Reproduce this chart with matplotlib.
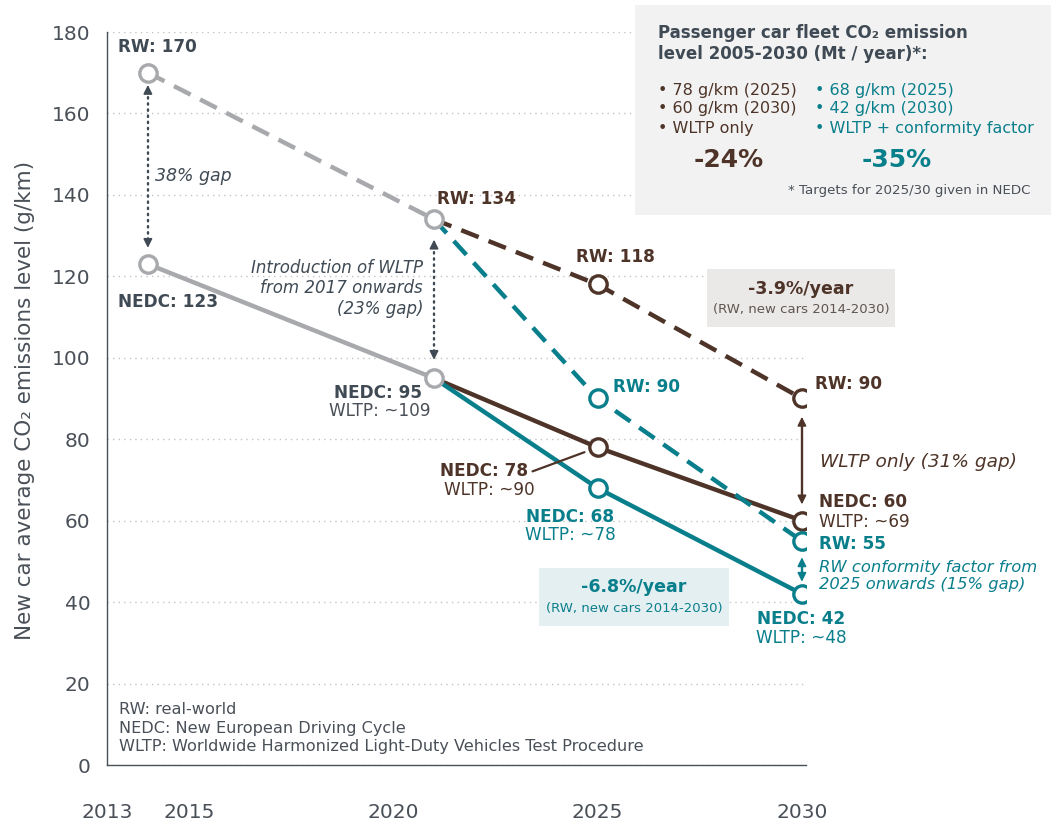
import matplotlib
matplotlib.use('Agg')
import matplotlib.pyplot as plt
from matplotlib.patches import Rectangle

plt.rcParams['font.family'] = ['DejaVu Sans']

''' data '''
years_hist = [2014, 2021]
rw_hist = [170, 134]
nedc_hist = [123, 95]
years_proj = [2021, 2025, 2030]
rw_wltp = [134, 118, 90]      # WLTP only
nedc_wltp = [95, 78, 60]
wltp_wltp = [109, 90, 69]
rw_cf = [134, 90, 55]         # WLTP + conformity factor
nedc_cf = [95, 68, 42]
wltp_cf = [109, 78, 48]
year_ticks = [2013, 2015, 2020, 2025, 2030]
y_ticks = [0, 20, 40, 60, 80, 100, 120, 140, 160, 180]
footnote = ['RW: real-world',
            'NEDC: New European Driving Cycle',
            'WLTP: Worldwide Harmonized Light-Duty Vehicles Test Procedure']

GRAY = '#a7a9ac'
BROWN = '#4e3428'
TEAL = '#0a7f8c'
DARK = '#3f4a54'
AXIS = '#4a5058'

W, H = 1051, 822
fig = plt.figure(figsize=(W / 100, H / 100), dpi=100)
ax = fig.add_axes([107 / W, 1 - 765 / H, 699 / W, 733 / H])
ax.set_xlim(2013, 2030.1)
ax.set_ylim(0, 180)


def fx(px):
    return px / W


def fy(py):
    return 1 - py / H


''' lines '''
lw = 3.2
dash = (4.2, 2.4)
ax.plot(years_hist, rw_hist, color=GRAY, lw=lw, dashes=dash, zorder=3)
ax.plot(years_hist, nedc_hist, color=GRAY, lw=lw, zorder=3)
ax.plot(years_proj, rw_wltp, color=BROWN, lw=lw, dashes=dash, zorder=2)
ax.plot(years_proj, nedc_wltp, color=BROWN, lw=lw, zorder=2)
ax.plot(years_proj, rw_cf, color=TEAL, lw=lw, dashes=dash, zorder=2)
ax.plot(years_proj, nedc_cf, color=TEAL, lw=lw, zorder=2)

mk = dict(marker='o', ms=12.5, mew=2.4, mfc='white', ls='none', zorder=6)
ax.plot(years_hist * 2, rw_hist + nedc_hist, mec=GRAY, **mk)
ax.plot(years_proj[1:] * 2, rw_wltp[1:] + nedc_wltp[1:], mec=BROWN, **mk)
ax.plot(years_proj[1:] * 2, rw_cf[1:] + nedc_cf[1:], mec=TEAL, **mk)

''' axes style '''
for s in ['top', 'right']:
    ax.spines[s].set_visible(False)
for s in ['left', 'bottom']:
    ax.spines[s].set_color(AXIS)
    ax.spines[s].set_linewidth(1.0)
ax.set_xticks(year_ticks)
ax.set_yticks(y_ticks)
ax.tick_params(axis='x', length=0, pad=27, labelsize=14.5, labelcolor=AXIS)
ax.tick_params(axis='y', length=0, pad=12, labelsize=14.5, labelcolor=AXIS)
ax.yaxis.grid(True, ls=(0, (1, 3)), color='#c4c4c4', lw=1)
ax.set_axisbelow(True)

fig.text(fx(25), fy(400), 'New car average CO₂ emissions level (g/km)',
         rotation=90, ha='center', va='center', fontsize=15.5, color=AXIS)


def lab(x, y, s, dx, dy, color, ha='left', weight='bold', size=12.2, style='normal'):
    ax.annotate(s, (x, y), xytext=(dx, dy), textcoords='offset pixels',
                ha=ha, va='center', color=color, fontsize=size,
                fontweight=weight, fontstyle=style, annotation_clip=False,
                linespacing=1.2, zorder=7)


''' point labels '''
lab(years_hist[0], rw_hist[0], f'RW: {rw_hist[0]}', -30, 26, DARK)
lab(years_hist[0], nedc_hist[0], f'NEDC: {nedc_hist[0]}', -30, -38, DARK)
lab(years_hist[0], rw_hist[0], '38% gap', 7, -103, DARK, weight='normal', style='italic', size=12.5)
lab(years_proj[0], rw_wltp[0], f'RW: {rw_wltp[0]}', 3, 20, BROWN)
lab(years_proj[0], nedc_wltp[0], f'NEDC: {nedc_wltp[0]}', -12, -15, DARK, ha='right')
lab(years_proj[0], nedc_wltp[0], f'WLTP: ~{wltp_wltp[0]}', -4, -33, AXIS, ha='right', weight='normal')
lab(years_proj[0], rw_wltp[0], 'Introduction of WLTP\nfrom 2017 onwards\n(23% gap)',
    -11, -69, DARK, ha='right', weight='normal', style='italic', size=12)

lab(years_proj[1], rw_wltp[1], f'RW: {rw_wltp[1]}', 18, 27, BROWN, ha='center')
lab(years_proj[1], rw_cf[1], f'RW: {rw_cf[1]}', 15, 12, TEAL)
lab(years_proj[1], nedc_wltp[1], f'NEDC: {nedc_wltp[1]}', -69, -24, BROWN, ha='right')
lab(years_proj[1], nedc_wltp[1], f'WLTP: ~{wltp_wltp[1]}', -63, -43, BROWN, ha='right', weight='normal')
ax.annotate('', (years_proj[1], nedc_wltp[1]), xytext=(-65, -24), textcoords='offset pixels',
            arrowprops=dict(arrowstyle='-', color=BROWN, lw=1.6, shrinkA=0, shrinkB=10))
lab(years_proj[1], nedc_cf[1], f'NEDC: {nedc_cf[1]}', -27, -29, TEAL, ha='center')
lab(years_proj[1], nedc_cf[1], f'WLTP: ~{wltp_cf[1]}', -27, -47, TEAL, ha='center', weight='normal')

lab(years_proj[2], rw_wltp[2], f'RW: {rw_wltp[2]}', 13, 15, BROWN)
lab(years_proj[2], nedc_wltp[2], f'NEDC: {nedc_wltp[2]}', 17, 19, BROWN)
lab(years_proj[2], nedc_wltp[2], f'WLTP: ~{wltp_wltp[2]}', 17, -1, BROWN, weight='normal')
lab(years_proj[2], nedc_wltp[2], 'WLTP only (31% gap)', 18, 59, BROWN, weight='normal',
    style='italic', size=13.3)
lab(years_proj[2], rw_cf[2], f'RW: {rw_cf[2]}', 17, -3, TEAL)
lab(years_proj[2], rw_cf[2], 'RW conformity factor from\n2025 onwards (15% gap)', 17, -35, TEAL,
    weight='normal', style='italic', size=11.8)
lab(years_proj[2], nedc_cf[2], f'NEDC: {nedc_cf[2]}', -1, -25, TEAL, ha='center')
lab(years_proj[2], nedc_cf[2], f'WLTP: ~{wltp_cf[2]}', -1, -44, TEAL, ha='center', weight='normal')


''' gap arrows '''
def gap_arrow(x, top, bot, color, ls):
    ax.plot([x, x], [top - 1.5, bot + 1.5], color=color, lw=1.7, ls=ls,
            dash_capstyle='round', zorder=4)
    for a, b in [(top, top - 1), (bot, bot + 1)]:
        ax.annotate('', (x, a), xytext=(x, b),
                    arrowprops=dict(arrowstyle='-|>', color=color, lw=1.2,
                                    mutation_scale=13, shrinkA=0, shrinkB=0), zorder=4)


gap_arrow(years_hist[0], rw_hist[0] - 3, nedc_hist[0] + 4, DARK, (0, (0.6, 2)))
gap_arrow(years_proj[0], rw_wltp[0] - 5, nedc_wltp[0] + 4.5, DARK, (0, (0.6, 2)))
gap_arrow(years_proj[2], rw_wltp[2] - 4.5, nedc_wltp[2] + 4, BROWN, '-')
gap_arrow(years_proj[2], rw_cf[2] - 4, nedc_cf[2] + 3, TEAL, '-')

''' rate boxes '''
fig.add_artist(Rectangle((fx(707), fy(327)), fx(895) - fx(707), fy(269) - fy(327),
                         transform=fig.transFigure, color='#ebe9e7', lw=0, zorder=1))
fig.text(fx(801), fy(289), '-3.9%/year', ha='center', va='center', fontsize=12.5,
         fontweight='bold', color=BROWN)
fig.text(fx(801), fy(310), '(RW, new cars 2014-2030)', ha='center', va='center',
         fontsize=9.5, color='#5f5550')

fig.add_artist(Rectangle((fx(539), fy(626)), fx(729) - fx(539), fy(568) - fy(626),
                         transform=fig.transFigure, color='#e3eff1', lw=0, zorder=1))
fig.text(fx(634), fy(587), '-6.8%/year', ha='center', va='center', fontsize=12.5,
         fontweight='bold', color=TEAL)
fig.text(fx(634), fy(608), '(RW, new cars 2014-2030)', ha='center', va='center',
         fontsize=9.5, color=TEAL)

''' summary box top right '''
fig.add_artist(Rectangle((fx(635), fy(215)), fx(W) - fx(635), fy(5) - fy(215),
                         transform=fig.transFigure, color='#f2f2f2', lw=0, zorder=1))
fig.text(fx(658), fy(33), 'Passenger car fleet CO₂ emission', va='center',
         fontsize=12, fontweight='bold', color=DARK)
fig.text(fx(658), fy(54), 'level 2005-2030 (Mt / year)*:', va='center',
         fontsize=12, fontweight='bold', color=DARK)
left_items = [f'• {nedc_wltp[1]} g/km (2025)', f'• {nedc_wltp[2]} g/km (2030)', '• WLTP only']
right_items = [f'• {nedc_cf[1]} g/km (2025)', f'• {nedc_cf[2]} g/km (2030)', '• WLTP + conformity factor']
for i, (l, r) in enumerate(zip(left_items, right_items)):
    fig.text(fx(658), fy(90 + 19 * i), l, va='center', fontsize=11.5, color=BROWN)
    fig.text(fx(815), fy(90 + 19 * i), r, va='center', fontsize=11.5, color=TEAL)
fig.text(fx(729), fy(160), '-24%', ha='center', va='center', fontsize=18,
         fontweight='bold', color=BROWN)
fig.text(fx(897), fy(160), '-35%', ha='center', va='center', fontsize=18,
         fontweight='bold', color=TEAL)
fig.text(fx(1031), fy(190), '* Targets for 2025/30 given in NEDC', ha='right',
         va='center', fontsize=9.6, color=AXIS)

''' footnote '''
for i, line in enumerate(footnote):
    fig.text(fx(119), fy(709 + 19 * i), line, va='center', fontsize=11.6, color=AXIS)

fig.savefig('out.png', dpi=100)
